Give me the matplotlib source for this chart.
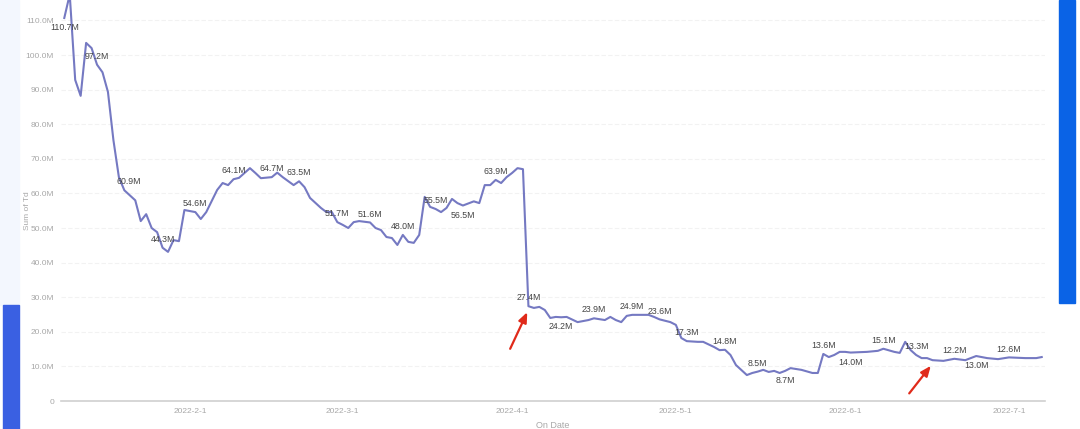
import pandas as pd
import matplotlib
matplotlib.use('Agg')
import matplotlib.pyplot as plt
from matplotlib.patches import Rectangle
from matplotlib.ticker import FuncFormatter

plt.rcParams['font.family'] = ['Liberation Sans', 'DejaVu Sans']

# Daten
dates = [
    '2022-01-09', '2022-01-10', '2022-01-11', '2022-01-12', '2022-01-13', '2022-01-14',
    '2022-01-15', '2022-01-16', '2022-01-17', '2022-01-18', '2022-01-19', '2022-01-20',
    '2022-01-22', '2022-01-23', '2022-01-24', '2022-01-25', '2022-01-26', '2022-01-27',
    '2022-01-28', '2022-01-29', '2022-01-30', '2022-01-31', '2022-02-02', '2022-02-03',
    '2022-02-04', '2022-02-06', '2022-02-07', '2022-02-08', '2022-02-09', '2022-02-10',
    '2022-02-12', '2022-02-13', '2022-02-14', '2022-02-16', '2022-02-17', '2022-02-18',
    '2022-02-20', '2022-02-21', '2022-02-22', '2022-02-23', '2022-02-25', '2022-02-26',
    '2022-02-27', '2022-02-28', '2022-03-01', '2022-03-02', '2022-03-03', '2022-03-04',
    '2022-03-06', '2022-03-07', '2022-03-08', '2022-03-09', '2022-03-10', '2022-03-11',
    '2022-03-12', '2022-03-13', '2022-03-14', '2022-03-15', '2022-03-16', '2022-03-17',
    '2022-03-18', '2022-03-19', '2022-03-20', '2022-03-21', '2022-03-22', '2022-03-23',
    '2022-03-25', '2022-03-26', '2022-03-27', '2022-03-28', '2022-03-29', '2022-03-30',
    '2022-03-31', '2022-04-01', '2022-04-02', '2022-04-03', '2022-04-04', '2022-04-05',
    '2022-04-06', '2022-04-07', '2022-04-08', '2022-04-09', '2022-04-10', '2022-04-11',
    '2022-04-13', '2022-04-15', '2022-04-16', '2022-04-18', '2022-04-19', '2022-04-20',
    '2022-04-21', '2022-04-22', '2022-04-23', '2022-04-26', '2022-04-27', '2022-04-28',
    '2022-04-30', '2022-05-01', '2022-05-02', '2022-05-03', '2022-05-05', '2022-05-06',
    '2022-05-08', '2022-05-09', '2022-05-10', '2022-05-11', '2022-05-12', '2022-05-14',
    '2022-05-15', '2022-05-16', '2022-05-17', '2022-05-18', '2022-05-19', '2022-05-20',
    '2022-05-21', '2022-05-22', '2022-05-24', '2022-05-26', '2022-05-27', '2022-05-28',
    '2022-05-29', '2022-05-30', '2022-05-31', '2022-06-01', '2022-06-02', '2022-06-05',
    '2022-06-07', '2022-06-08', '2022-06-10', '2022-06-11', '2022-06-12', '2022-06-13',
    '2022-06-14', '2022-06-15', '2022-06-16', '2022-06-17', '2022-06-19', '2022-06-21',
    '2022-06-23', '2022-06-25', '2022-06-27', '2022-06-29', '2022-07-01', '2022-07-04',
    '2022-07-06', '2022-07-07',
]
values = [
    110.7, 117.5, 92.8, 88.2, 103.5, 102.0,
    97.2, 95.0, 89.3, 75.4, 64.7, 60.9,
    58.0, 52.0, 54.0, 50.0, 48.8, 44.3,
    43.1, 46.5, 46.2, 55.2, 54.6, 52.6,
    54.6, 61.0, 63.0, 62.4, 64.1, 64.5,
    67.3, 65.9, 64.4, 64.7, 66.0, 64.7,
    62.4, 63.5, 61.8, 58.7, 55.8, 54.6,
    54.6, 51.7, 50.9, 50.0, 51.7, 52.0,
    51.6, 50.0, 49.4, 47.4, 47.1, 45.1,
    48.0, 46.0, 45.7, 48.0, 59.0, 56.1,
    55.5, 54.6, 55.8, 58.4, 57.2, 56.5,
    57.7, 57.2, 62.4, 62.4, 63.9, 63.0,
    64.7, 65.9, 67.3, 67.0, 27.4, 26.9,
    27.2, 26.3, 24.0, 24.3, 24.2, 24.3,
    22.8, 23.4, 23.9, 23.4, 24.3, 23.4,
    22.8, 24.6, 24.9, 24.9, 24.3, 23.6,
    22.8, 22.0, 18.2, 17.3, 17.1, 17.1,
    15.6, 14.7, 14.8, 13.3, 10.4, 7.5,
    8.1, 8.5, 9.0, 8.4, 8.7, 8.1,
    8.7, 9.5, 9.0, 8.1, 8.1, 13.6,
    12.7, 13.3, 14.2, 14.2, 14.0, 14.2,
    14.5, 15.1, 14.2, 13.9, 17.1, 14.7,
    13.3, 12.4, 12.4, 11.8, 11.6, 12.2,
    11.8, 13.0, 12.4, 12.1, 12.6, 12.4,
    12.4, 12.7,
]

# Beschriftete Punkte
label_dates = [
    '2022-01-09', '2022-01-15', '2022-01-20', '2022-01-27', '2022-02-02', '2022-02-09',
    '2022-02-16', '2022-02-21', '2022-02-28', '2022-03-06', '2022-03-12', '2022-03-18',
    '2022-03-23', '2022-03-29', '2022-04-04', '2022-04-10', '2022-04-16', '2022-04-23',
    '2022-04-28', '2022-05-03', '2022-05-10', '2022-05-16', '2022-05-21', '2022-05-28',
    '2022-06-02', '2022-06-08', '2022-06-14', '2022-06-21', '2022-06-25', '2022-07-01',
]
labels_below = ['2022-01-09', '2022-03-23', '2022-04-10', '2022-05-21', '2022-06-02', '2022-06-25']

tick_dates = ['2022-02-01', '2022-03-01', '2022-04-01', '2022-05-01', '2022-06-01', '2022-07-01']
y_ticks = [0, 10, 20, 30, 40, 50, 60, 70, 80, 90, 100, 110]

df = pd.DataFrame({'date': pd.to_datetime(dates), 'value': values})

fig = plt.figure(figsize=(10.8, 4.29), dpi=100)
ax = fig.add_axes([61 / 1080, 1 - 401 / 429, 984 / 1080, 401 / 429])

ax.plot(df['date'], df['value'], color='#7579c2', lw=1.5, solid_joinstyle='round')

lookup = dict(zip(df['date'], df['value']))
for d in label_dates:
    t = pd.Timestamp(d)
    v = lookup[t]
    dy = -7 if d in labels_below else 6
    dx = 3 if d == '2022-01-20' else 0
    ax.annotate(f'{v:.1f}M', (t, v), xytext=(dx, dy), textcoords='offset points',
                ha='center', va='center', fontsize=6.3, color='#444444')

# rote Pfeile
for d, dx, dy in [('2022-04-04', -14, -30), ('2022-06-17', -18, -23)]:
    t = pd.Timestamp(d)
    ax.annotate('', (t, lookup[t] - 1.0), xytext=(dx, dy), textcoords='offset points',
                arrowprops=dict(arrowstyle='-|>,head_width=0.25,head_length=0.6',
                                color='#e02a1a', lw=1.6))

start = pd.Timestamp('2022-02-01')
ax.set_xlim(start - pd.Timedelta(days=23.6), start + pd.Timedelta(days=156.6))
ax.set_ylim(0, 115.9)

ax.set_yticks(y_ticks)
ax.yaxis.set_major_formatter(FuncFormatter(lambda v, p: '0' if v == 0 else f'{v:.1f}M'))
ax.set_xticks(pd.to_datetime(tick_dates))
ax.set_xticklabels([f'{t.year}-{t.month}-{t.day}' for t in pd.to_datetime(tick_dates)])

ax.tick_params(axis='both', length=0, labelsize=6, labelcolor='#a8a8a8')
ax.tick_params(axis='y', pad=5)
ax.tick_params(axis='x', pad=5)
ax.grid(axis='y', color='#f2f2f2', lw=0.8, ls=(0, (4, 2)))
ax.set_axisbelow(True)
for s in ['top', 'left', 'right']:
    ax.spines[s].set_visible(False)
ax.spines['bottom'].set_color('#d0d0d0')
ax.spines['bottom'].set_linewidth(1.2)

ax.set_xlabel('On Date', fontsize=6.5, color='#a8a8a8', labelpad=4)
ax.set_ylabel('Sum of Td', fontsize=6, color='#a8a8a8')
ax.yaxis.set_label_coords(-30 / 984, 190 / 401)

# Bildschirmränder
fig.patches.append(Rectangle((3 / 1080, 0), 16 / 1080, 1 - 305 / 429, transform=fig.transFigure,
                             color='#3a60e2', zorder=-1))
fig.patches.append(Rectangle((0, 1 - 305 / 429), 19 / 1080, 305 / 429, transform=fig.transFigure,
                             color='#f3f7fe', zorder=-2))
fig.patches.append(Rectangle((1059 / 1080, 1 - 303 / 429), 16 / 1080, 303 / 429,
                             transform=fig.transFigure, color='#0a63e6', zorder=-1))

fig.savefig('out.png', dpi=100)
